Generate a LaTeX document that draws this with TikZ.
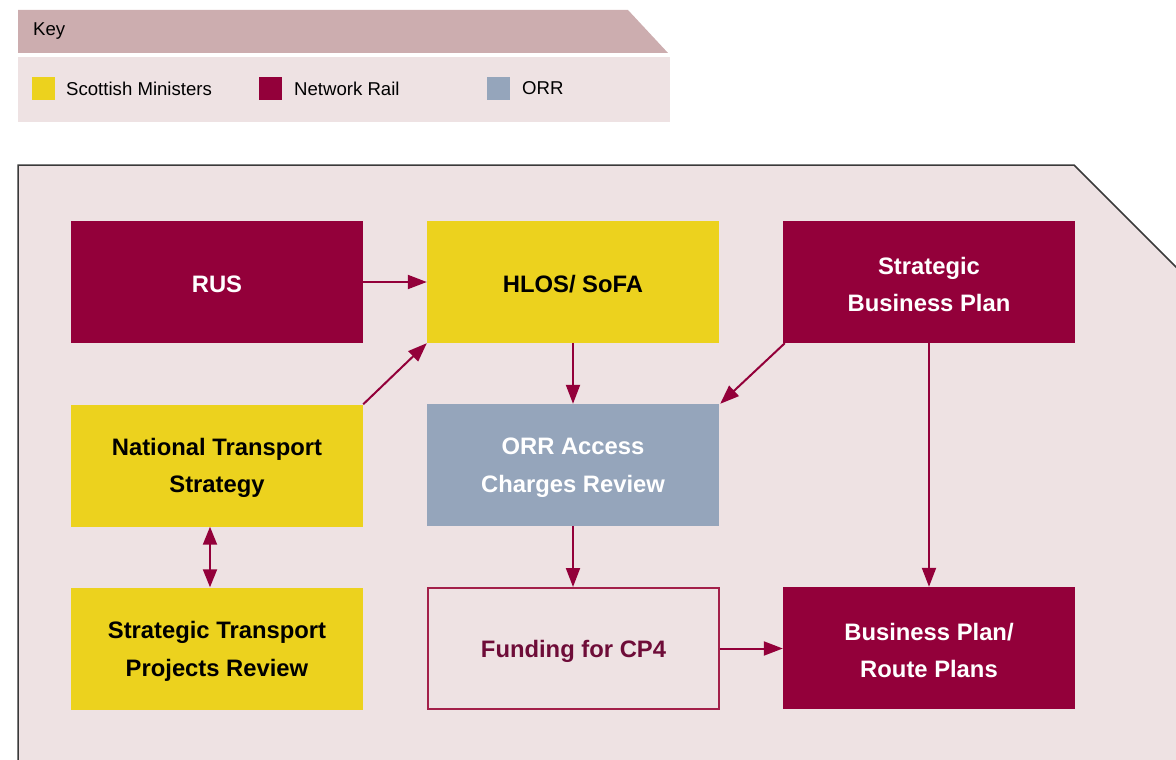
\documentclass[tikz,border=0pt]{standalone}
\usepackage{fontspec}
\setmainfont{Liberation Sans}
\usetikzlibrary{arrows.meta}
\definecolor{railred}{HTML}{93003A}
\definecolor{minyellow}{HTML}{ECD21E}
\definecolor{orrgrey}{HTML}{95A5BB}
\definecolor{panelbg}{HTML}{EEE2E3}
\definecolor{keyhead}{HTML}{CCADAF}
\definecolor{fundline}{HTML}{A3204A}
\definecolor{fundtext}{HTML}{6E0C38}
\definecolor{edgegrey}{HTML}{3A3A3A}
\begin{document}
\begin{tikzpicture}[x=1pt,y=-1pt,
  box/.style={minimum width=292pt, minimum height=122pt, inner sep=0pt},
  nrbox/.style={box, fill=railred},
  smbox/.style={box, fill=minyellow},
  orrbox/.style={box, fill=orrgrey},
  fundbox/.style={box, draw=fundline, line width=2pt, minimum width=291pt, minimum height=121pt},
  lbl/.style={inner sep=0pt, align=center, font=\fontsize{23.8}{37.7}\selectfont\bfseries},
  arr/.style={draw=railred, line width=2pt, -{Triangle[length=19pt,width=14pt]}},
  biarr/.style={draw=railred, line width=2pt, {Triangle[length=18pt,width=14pt]}-{Triangle[length=18pt,width=14pt]}},
  swatch/.style={minimum width=23pt, minimum height=23pt, inner sep=0pt},
  keytext/.style={anchor=west, inner sep=0pt, font=\fontsize{18.6}{22}\selectfont}
]
\useasboundingbox (0,0) rectangle (1176,760);
\clip (0,0) rectangle (1176,760);

% key panel
\fill[keyhead] (18,10) -- (628,10) -- (668,53) -- (18,53) -- cycle;
\node[keytext] (keytitle) at (33,31) {Key};
\fill[panelbg] (18,57) rectangle (670,122);
\node[swatch, fill=minyellow] (kys) at (43.5,88.5) {};
\node[keytext] (kyt) at (66,88.5) {Scottish Ministers};
\node[swatch, fill=railred] (krs) at (270.5,88.5) {};
\node[keytext] (krt) at (294,88.5) {Network Rail};
\node[swatch, fill=orrgrey] (kgs) at (498.5,88.5) {};
\node[keytext] (kgt) at (522,88.5) {ORR};

% main panel with cut corner
\fill[panelbg] (18,800) -- (18,165) -- (1074,165) -- (1300,391) -- (1300,800) -- cycle;
\draw[edgegrey, line width=1.5pt] (18,800) -- (18,165) -- (1074,165) -- (1300,391);

% process boxes
\node[nrbox]   (rus)  at (217,282)   {};
\node[smbox]   (hlos) at (573,282)   {};
\node[nrbox]   (sbp)  at (929,282)   {};
\node[smbox]   (nts)  at (217,465.5) {};
\node[orrbox]  (orr)  at (573,465)   {};
\node[smbox]   (stpr) at (217,648.5) {};
\node[fundbox] (fund) at (573.5,648.5) {};
\node[nrbox]   (bp)   at (929,648)   {};

% box captions, set a little below the geometric centre
\node[lbl, text=white]    (rusT)  at ([yshift=-2.5pt]rus.center)  {RUS};
\node[lbl, text=black]    (hlosT) at ([yshift=-2.5pt]hlos.center) {HLOS/ SoFA};
\node[lbl, text=white]    (sbpT)  at ([yshift=-2.5pt]sbp.center)  {Strategic\\Business Plan};
\node[lbl, text=black]    (ntsT)  at ([yshift=-2.5pt]nts.center)  {National Transport\\Strategy};
\node[lbl, text=white]    (orrT)  at ([yshift=-2.5pt]orr.center)  {ORR Access\\Charges Review};
\node[lbl, text=black]    (stprT) at ([yshift=-2.5pt]stpr.center) {Strategic Transport\\Projects Review};
\node[lbl, text=fundtext] (fundT) at ([yshift=-2.5pt]fund.center) {Funding for CP4};
\node[lbl, text=white]    (bpT)   at ([yshift=-2.5pt]bp.center)   {Business Plan/\\Route Plans};

% connectors
\draw[arr] (rus) -- (hlos);
\draw[arr] (nts.north east) -- (hlos.south west);
\draw[arr] (hlos) -- (orr);
\draw[arr] ([xshift=2pt]sbp.south west) -- ([xshift=1pt]orr.north east);
\draw[arr] (sbp) -- (bp);
\draw[arr] (orr.south) -- (orr.south |- fund.north);
\draw[arr] (fund.east) -- (fund.east -| bp.west);
\draw[biarr] ([xshift=-7pt]nts.south) -- ([xshift=-7pt]stpr.north);
\end{tikzpicture}
\end{document}
